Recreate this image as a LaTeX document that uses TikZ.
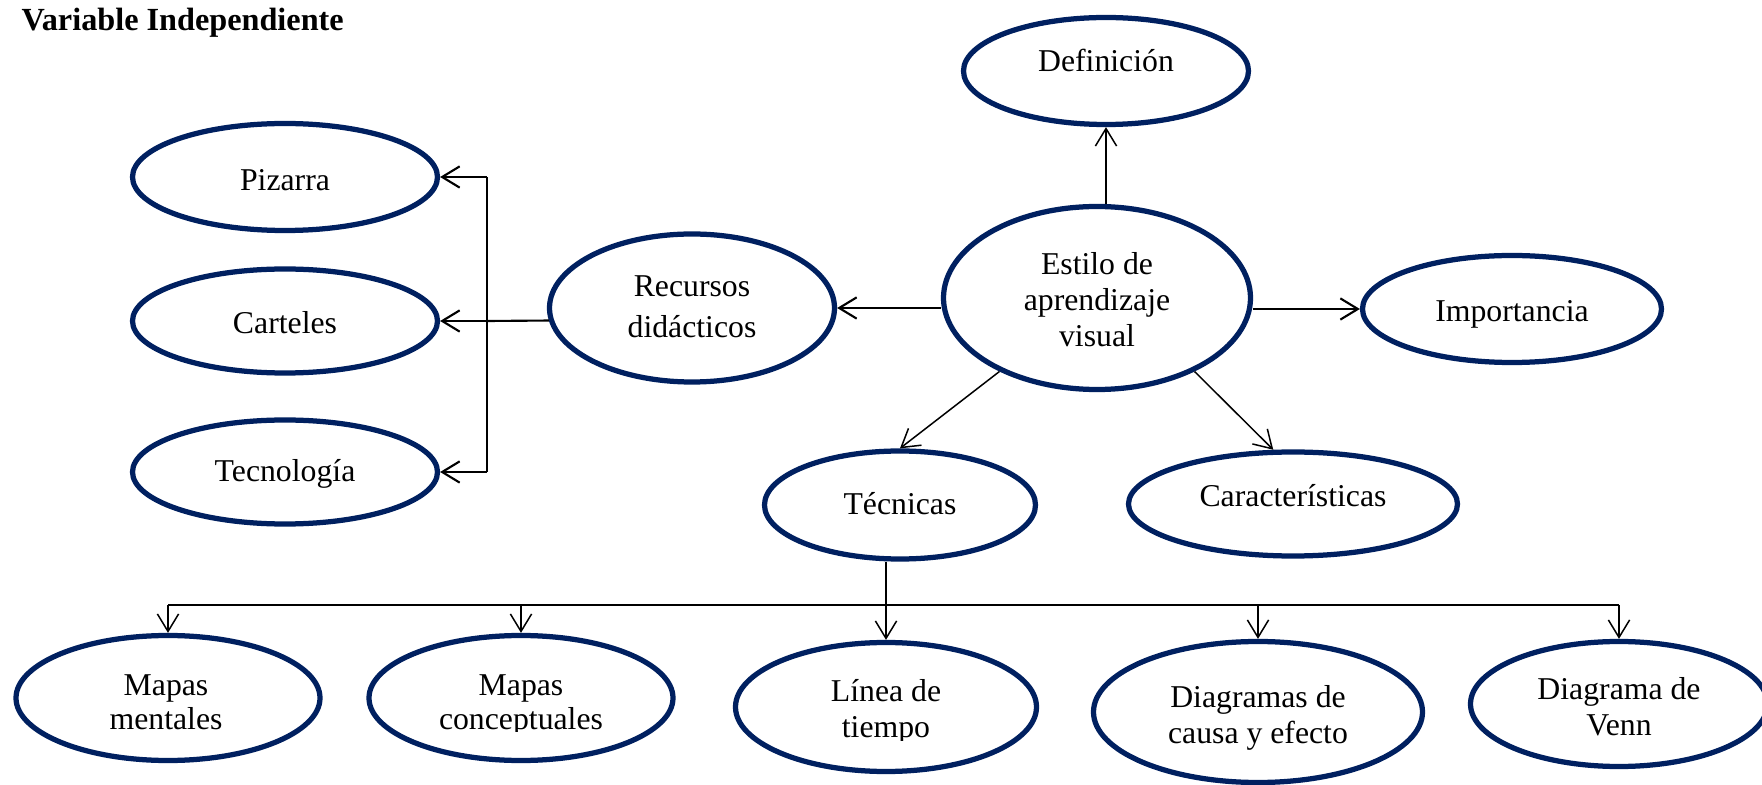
\documentclass[tikz,border=0pt]{standalone}
\usepackage{fontspec}
\setmainfont{Liberation Serif}
\usetikzlibrary{shapes.geometric,arrows.meta}
\definecolor{navy}{RGB}{0,32,96}
\begin{document}
\begin{tikzpicture}[x=0.4pt,y=-0.4pt,
  oval/.style 2 args={ellipse, draw=navy, line width=2.1pt, inner sep=0pt,
    minimum width={0.8pt*#1}, minimum height={0.8pt*#2}},
  lbl/.style={inner sep=0pt, anchor=base, font=\fontsize{12.7pt}{15pt}\selectfont},
  wire/.style={line width=0.6pt},
  heavy/.style={line width=0.85pt},
  tip/.style={-{Straight Barb[length=7pt,width=8.5pt]}}
]
\useasboundingbox (0,0) rectangle (1762,785);

% heading
\node[lbl, anchor=base west, font=\bfseries\fontsize{12.9pt}{15pt}\selectfont]
  (title) at (21,31) {Variable Independiente};

% ovals
\node[oval={142.5}{53.5}] (def)    at (1106,71)  {};
\node[oval={152.5}{53.5}] (pz)     at (285,177)  {};
\node[oval={152.5}{52}]   (ct)     at (285,321)  {};
\node[oval={152.5}{52}]   (tecn)   at (285,472)  {};
\node[oval={142.5}{74}]   (rec)    at (692,308)  {};
\node[oval={153.5}{91.5}] (estilo) at (1097,298) {};
\node[oval={149.5}{53.5}] (imp)    at (1512,309) {};
\node[oval={135.5}{54}]   (tec)    at (900,505)  {};
\node[oval={164.5}{52}]   (car)    at (1293,504) {};
\node[oval={152}{62.5}]   (mm)     at (168,698)  {};
\node[oval={152}{62.5}]   (mc)     at (521,698)  {};
\node[oval={150.5}{64.5}] (lin)    at (886,707)  {};
\node[oval={164.5}{70.5}] (dce)    at (1258,712) {};
\node[oval={148.5}{62.5}] (venn)   at (1619,704) {};

% labels
\node[lbl] (def-a)    at (1106,72)  {Definición};
\node[lbl] (pz-a)     at (285,191)  {Pizarra};
\node[lbl] (ct-a)     at (285,334)  {Carteles};
\node[lbl] (tecn-a)   at (285,482)  {Tecnología};
\node[lbl] (rec-a)    at (692,297)  {Recursos};
\node[lbl] (rec-b)    at (692,338)  {didácticos};
\node[lbl] (estilo-a) at (1097,275) {Estilo de};
\node[lbl] (estilo-b) at (1097,311) {aprendizaje};
\node[lbl] (estilo-c) at (1097,347) {visual};
\node[lbl] (imp-a)    at (1512,322) {Importancia};
\node[lbl] (tec-a)    at (900,515)  {Técnicas};
\node[lbl] (car-a)    at (1293,507) {Características};
\node[lbl] (dce-a)    at (1258,707) {Diagramas de};
\node[lbl] (dce-b)    at (1258,744) {causa y efecto};
\node[lbl] (venn-a)   at (1619,700) {Diagrama de};
\node[lbl] (venn-b)   at (1619,736) {Venn};
% text boxes that cut off their second line
\begin{scope}
  \clip (0,600) rectangle (720,731);
  \node[lbl] (mm-a) at (166,695) {Mapas};
  \node[lbl] (mm-b) at (166,730) {mentales};
  \node[lbl] (mc-a) at (521,695) {Mapas};
  \node[lbl] (mc-b) at (521,730) {conceptuales};
\end{scope}
\begin{scope}
  \clip (720,600) rectangle (1060,740);
  \node[lbl] (lin-a) at (886,702) {Línea de};
  \node[lbl] (lin-b) at (886,737) {tiempo};
\end{scope}

% connectors from the central oval
\draw[wire,tip]  (def.south |- estilo.north) -- (def.south);
\draw[heavy,tip] (estilo.west |- rec.east) -- (rec.east);
\draw[heavy,tip] (estilo.east |- imp.west) -- (imp.west);
\draw[wire,tip]  (estilo.217) -- (tec.north);
\draw[wire,tip]  (estilo.-37) -- (car.110);

% teaching resources bracket
\coordinate (brk) at (487,321);
\draw[heavy] (rec.185) -- (brk);
\draw[wire] (brk |- pz.east) -- (brk |- tecn.east);
\draw[heavy,tip] (brk) -- (ct.east);
\draw[heavy,tip] (brk |- pz.east) -- (pz.east);
\draw[heavy,tip] (brk |- tecn.east) -- (tecn.east);

% techniques bus
\coordinate (bus) at (887,605);
\draw[wire] (mm.north |- bus) -- (venn.north |- bus);
\draw[wire,tip] (tec.south -| lin.north) -- (lin.north);
\draw[wire,tip] (mm.north |- bus) -- (mm.north);
\draw[wire,tip] (mc.north |- bus) -- (mc.north);
\draw[wire,tip] (dce.north |- bus) -- (dce.north);
\draw[wire,tip] (venn.north |- bus) -- (venn.north);
\end{tikzpicture}
\end{document}
